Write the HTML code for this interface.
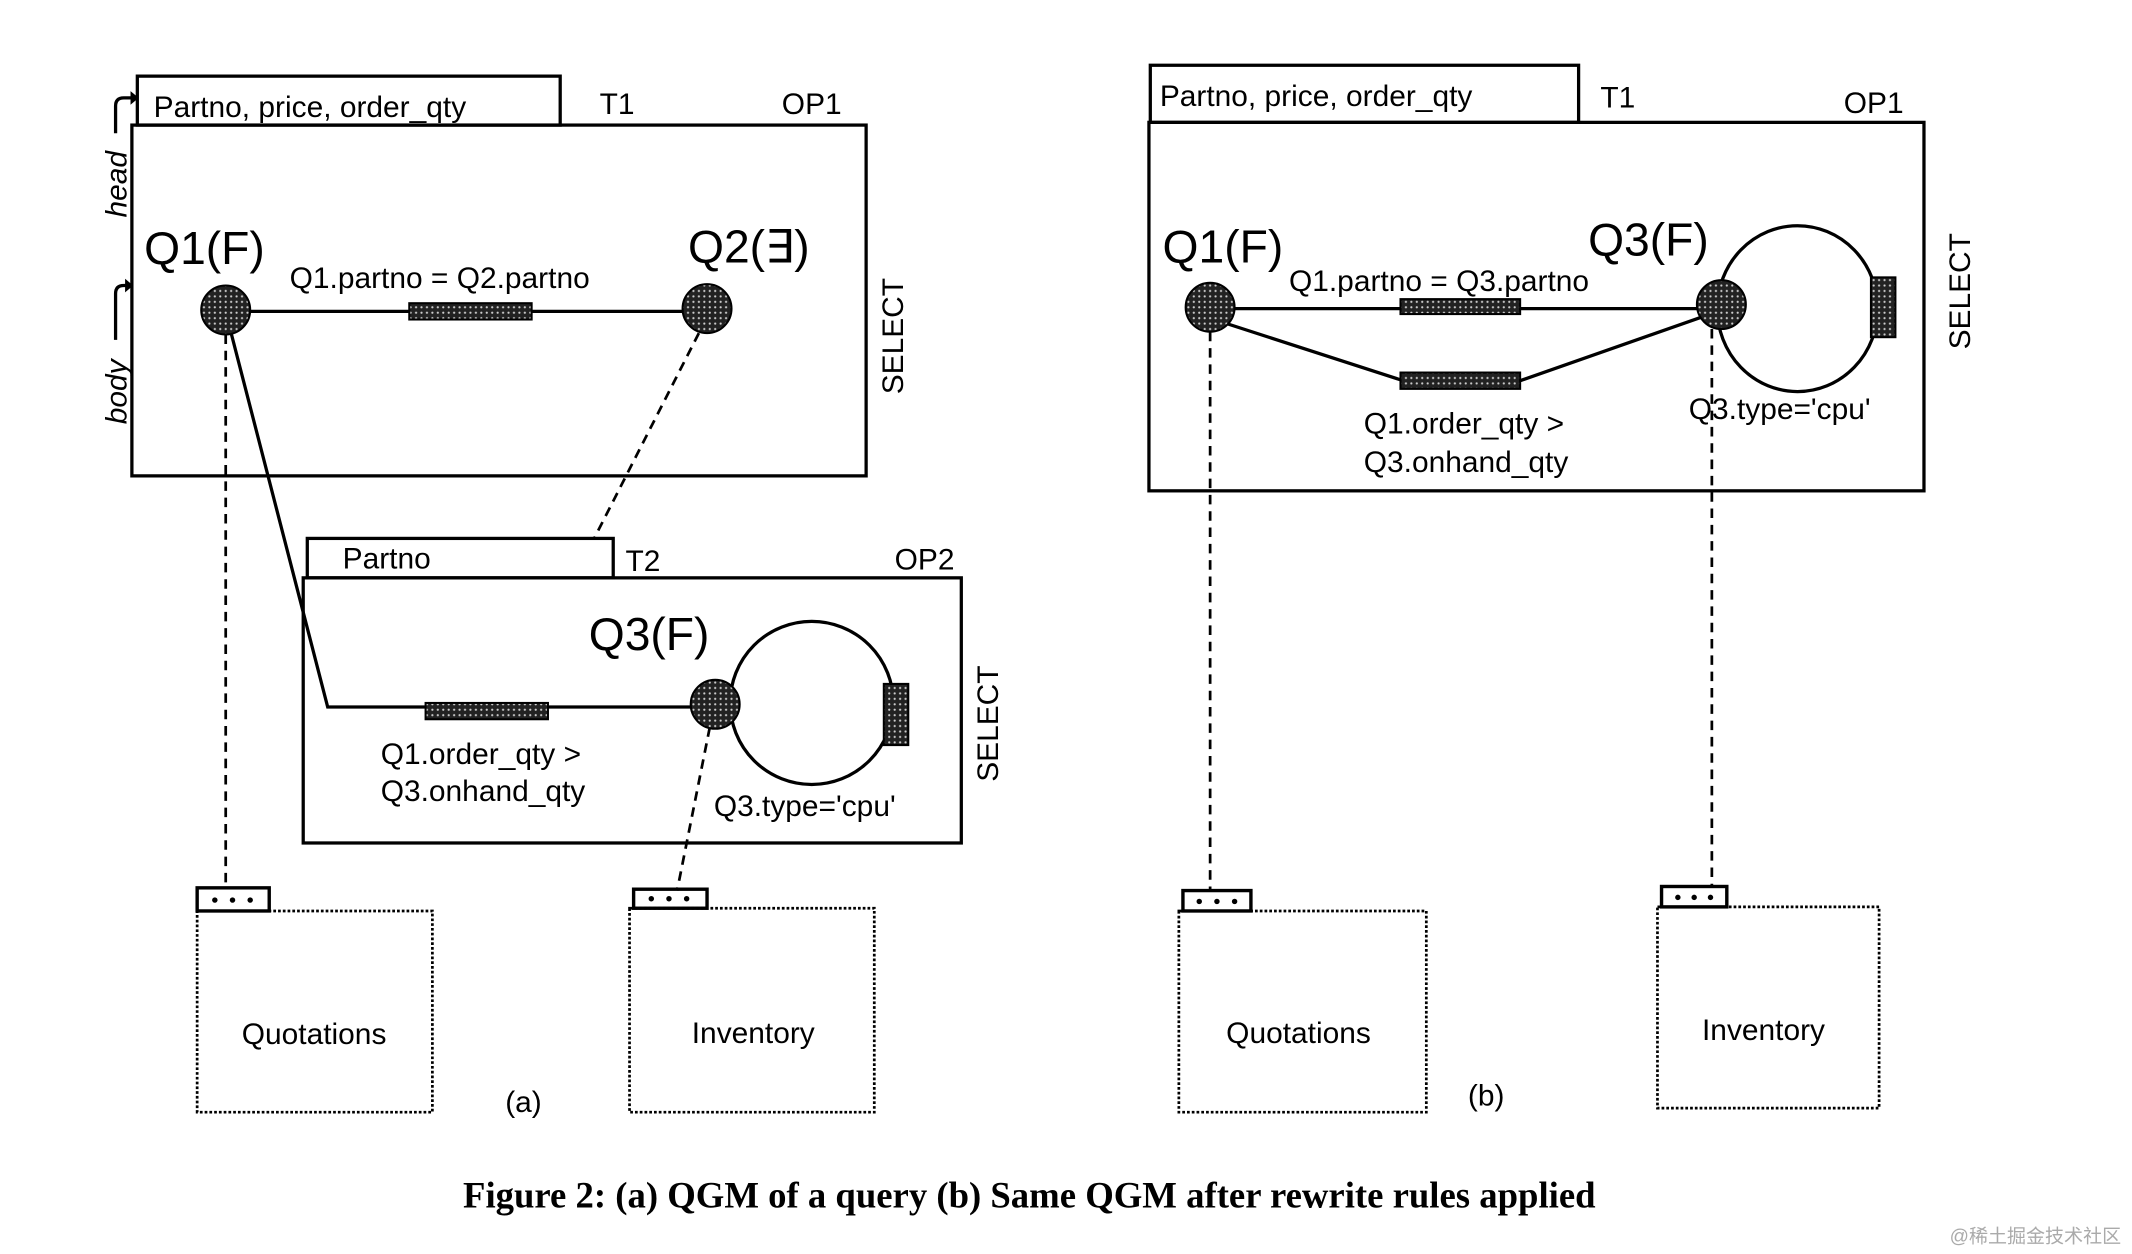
<!DOCTYPE html>
<html><head><meta charset="utf-8"><style>
html,body{margin:0;padding:0;background:#fff;}
svg{display:block;}
text{font-family:"Liberation Sans",sans-serif;fill:#000;}
</style></head><body>
<svg width="2132" height="1254" viewBox="0 0 1568 922.3" preserveAspectRatio="none" xmlns="http://www.w3.org/2000/svg">
<defs>
<pattern id="h" width="4" height="4" patternUnits="userSpaceOnUse">
<rect width="4" height="4" fill="#222"/><circle cx="2" cy="2" r="0.8" fill="#ccc"/>
</pattern>
</defs>
<g stroke="#000" fill="none" stroke-width="2.4">
<!-- Panel (a) -->
<rect x="101" y="56" width="311" height="36"/>
<rect x="97" y="92" width="540" height="258"/>
<path d="M85 98 V78 Q85 72 91 72 H98"/>
<path d="M85 250 V216 Q85 210 91 210 H96"/>
<line x1="166" y1="229" x2="520" y2="229"/>
<path d="M170 245 L241 520 H526"/>
<rect x="226" y="396" width="225" height="29"/>
<rect x="223" y="425" width="484" height="195"/>
<circle cx="597" cy="517" r="60"/>
<g stroke-dasharray="7,5" stroke-width="2">
<line x1="166" y1="246" x2="166" y2="653"/>
<line x1="514" y1="245" x2="437" y2="396"/>
<line x1="522" y1="535" x2="498" y2="655"/>
</g>
<rect x="145" y="653" width="53" height="17" stroke-width="2.5"/>
<rect x="466" y="654" width="54" height="14" stroke-width="2.5"/>
<g stroke-dasharray="2,1.5" stroke-width="2">
<rect x="145" y="670" width="173" height="148"/>
<rect x="463" y="668" width="180" height="150"/>
</g>
<!-- Panel (b) -->
<rect x="846" y="48" width="315" height="42"/>
<rect x="845" y="90" width="570" height="271"/>
<line x1="890" y1="227" x2="1266" y2="227"/>
<path d="M896 236 L1032 280 H1118 L1255 232"/>
<ellipse cx="1322" cy="227" rx="59" ry="61"/>
<g stroke-dasharray="7,5" stroke-width="2">
<line x1="890" y1="244" x2="890" y2="655"/>
<line x1="1259" y1="242" x2="1259" y2="652"/>
</g>
<rect x="870" y="655" width="50" height="15" stroke-width="2.5"/>
<rect x="1222" y="652" width="48" height="15" stroke-width="2.5"/>
<g stroke-dasharray="2,1.5" stroke-width="2">
<rect x="867" y="670" width="182" height="148"/>
<rect x="1219" y="667" width="163" height="148"/>
</g>
</g>
<path d="M96 67 L102 72 L96 77 Z" fill="#000"/>
<path d="M92 205 L98 210 L92 215 Z" fill="#000"/>
<g fill="url(#h)" stroke="#000" stroke-width="1.5">
<circle cx="166" cy="228" r="18"/>
<circle cx="520" cy="227" r="18"/>
<circle cx="526" cy="518" r="18"/>
<circle cx="890" cy="226" r="18"/>
<circle cx="1266" cy="224" r="18"/>
<rect x="301" y="223" width="90" height="12"/>
<rect x="313" y="517" width="90" height="12"/>
<rect x="650" y="503" width="18" height="45"/>
<rect x="1030" y="220" width="88" height="11"/>
<rect x="1030" y="274" width="88" height="12"/>
<rect x="1376" y="204" width="18" height="44"/>
</g>
<g fill="#000">
<circle cx="158" cy="662" r="2"/><circle cx="171" cy="662" r="2"/><circle cx="184" cy="662" r="2"/>
<circle cx="479" cy="661" r="2"/><circle cx="492" cy="661" r="2"/><circle cx="505" cy="661" r="2"/>
<circle cx="882" cy="663" r="2"/><circle cx="895" cy="663" r="2"/><circle cx="908" cy="663" r="2"/>
<circle cx="1234" cy="660" r="2"/><circle cx="1246" cy="660" r="2"/><circle cx="1258" cy="660" r="2"/>
</g>
<g font-size="22">
<text x="113" y="86">Partno, price, order_qty</text>
<text x="441" y="84">T1</text>
<text x="575" y="84">OP1</text>
<text x="213" y="212">Q1.partno = Q2.partno</text>
<text x="252" y="418">Partno</text>
<text x="460" y="420">T2</text>
<text x="658" y="419">OP2</text>
<text x="280" y="562">Q1.order_qty &gt;</text>
<text x="280" y="589">Q3.onhand_qty</text>
<text x="525" y="600">Q3.type='cpu'</text>
<text x="231" y="768" text-anchor="middle">Quotations</text>
<text x="554" y="767" text-anchor="middle">Inventory</text>
<text x="385" y="818" text-anchor="middle">(a)</text>
<text font-style="italic" transform="translate(93,160) rotate(-90)">head</text>
<text font-style="italic" transform="translate(93,312) rotate(-90)">body</text>
<text transform="translate(664,290) rotate(-90)">SELECT</text>
<text transform="translate(734,575) rotate(-90)">SELECT</text>
</g>
<g font-size="34">
<text x="106" y="194">Q1(F)</text>
<text x="506" y="193">Q2(∃)</text>
<text x="433" y="478">Q3(F)</text>
<text x="855" y="193">Q1(F)</text>
<text x="1168" y="188">Q3(F)</text>
</g>
<g font-size="22">
<text x="853" y="78">Partno, price, order_qty</text>
<text x="1177" y="79">T1</text>
<text x="1356" y="83">OP1</text>
<text x="948" y="214">Q1.partno = Q3.partno</text>
<text x="1003" y="319">Q1.order_qty &gt;</text>
<text x="1003" y="347">Q3.onhand_qty</text>
<text x="1242" y="308">Q3.type='cpu'</text>
<text x="955" y="767" text-anchor="middle">Quotations</text>
<text x="1297" y="765" text-anchor="middle">Inventory</text>
<text x="1093" y="813" text-anchor="middle">(b)</text>
<text transform="translate(1449,257) rotate(-90)">SELECT</text>
</g>
<text x="757" y="888" text-anchor="middle" font-size="27" font-weight="bold" style="font-family:'Liberation Serif',serif">Figure 2: (a) QGM of a query  (b) Same QGM after rewrite rules applied</text>
<text x="1560" y="914" text-anchor="end" font-size="14" style="fill:#aaa;font-family:'Liberation Sans','Noto Sans CJK SC',sans-serif">@稀土掘金技术社区</text>
</svg>
</body></html>
